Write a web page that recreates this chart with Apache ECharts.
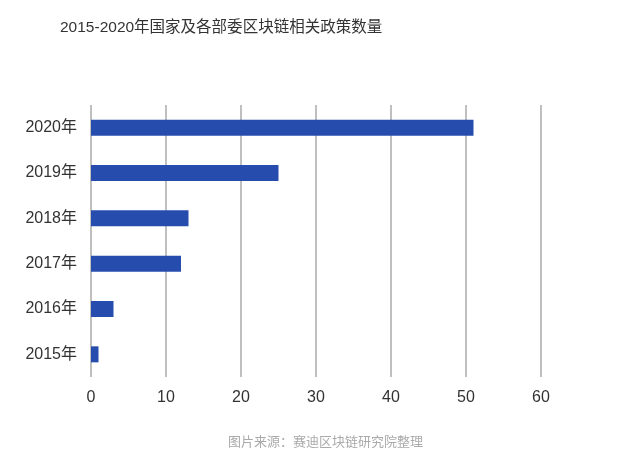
<!DOCTYPE html>
<html>
<head>
<meta charset="utf-8">
<script src="https://cdn.jsdelivr.net/npm/echarts@6/dist/echarts.min.js"></script>
<style>
  html, body { margin: 0; padding: 0; background: #fff; }
  #chart { width: 630px; height: 461px; }
</style>
</head>
<body>
<div id="chart"></div>
<script>
const years = ['2015年', '2016年', '2017年', '2018年', '2019年', '2020年'];
const policyCounts = [1, 3, 12, 13, 25, 51];
const xTicks = [0, 10, 20, 30, 40, 50, 60];

const font = "'Liberation Sans', 'Noto Sans CJK SC', sans-serif";

const chart = echarts.init(document.getElementById('chart'));
const option = {
  backgroundColor: '#fff',
  title: {
    text: '2015-2020年国家及各部委区块链相关政策数量',
    left: 55,
    top: 15,
    textStyle: {
      fontFamily: font,
      fontSize: 15.5,
      fontWeight: 'normal',
      color: '#333'
    }
  },
  graphic: [{
    type: 'text',
    left: 228,
    top: 436,
    style: {
      text: '图片来源：赛迪区块链研究院整理',
      fontFamily: font,
      fontSize: 13,
      fill: '#aaa'
    }
  }],
  grid: {
    left: 91,
    right: 89,
    top: 105,
    bottom: 84,
    containLabel: false
  },
  xAxis: {
    type: 'value',
    min: xTicks[0],
    max: xTicks[xTicks.length - 1],
    interval: 10,
    axisLine: { show: false },
    axisTick: { show: false },
    axisLabel: {
      margin: 13,
      fontFamily: font,
      fontSize: 16,
      color: '#333'
    },
    splitLine: {
      show: true,
      lineStyle: { color: '#aaa', width: 1.5 }
    }
  },
  yAxis: {
    type: 'category',
    data: years,
    axisLine: { show: false },
    axisTick: { show: false },
    axisLabel: {
      margin: 14,
      fontFamily: font,
      fontSize: 16,
      color: '#333'
    }
  },
  series: [{
    type: 'bar',
    data: policyCounts,
    barWidth: 16,
    itemStyle: { color: '#264cad' },
    silent: true
  }],
  animation: false
};
chart.setOption(option);
</script>
</body>
</html>
